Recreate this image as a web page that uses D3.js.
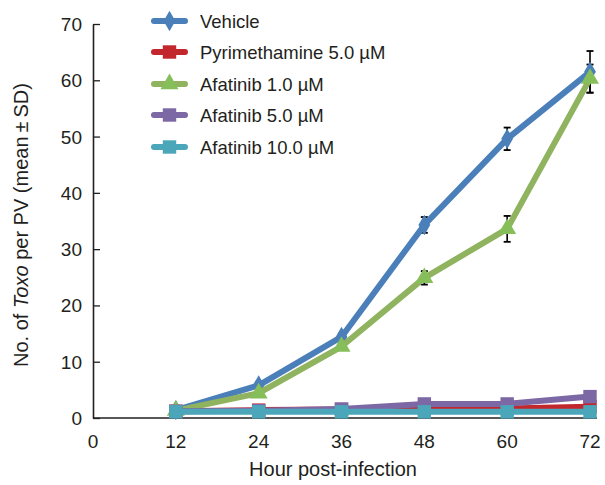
<!DOCTYPE html>
<html>
<head>
<meta charset="utf-8">
<script src="https://cdn.jsdelivr.net/npm/d3@7"></script>
<style>
  body { margin: 0; background: #fff; }
  text { font-family: "Liberation Sans", Arial, sans-serif; fill: #231f20; }
</style>
</head>
<body>
<svg width="605" height="485"></svg>
<script>
// hours sampled
var hours = [12, 24, 36, 48, 60, 72];
var xTicks = [0, 12, 24, 36, 48, 60, 72];
var yTicks = [0, 10, 20, 30, 40, 50, 60, 70];

var seriesNames = ["Vehicle", "Pyrimethamine 5.0 \u00b5M", "Afatinib 1.0 \u00b5M", "Afatinib 5.0 \u00b5M", "Afatinib 10.0 \u00b5M"];
var seriesColors = ["#4a7fb9", "#c1272d", "#8fb35e", "#7c68a4", "#4ba6ba"];
var seriesShapes = ["diamond", "square", "triangle", "square", "square"];

var vehicle = [1.4, 5.8, 14.4, 34.3, 49.6, 61.5];
var pyrimethamine = [1.2, 1.4, 1.5, 1.7, 1.7, 2.0];
var afatinib1 = [1.3, 4.4, 12.7, 24.9, 33.6, 60.3];
var afatinib5 = [1.2, 1.3, 1.6, 2.5, 2.5, 3.8];
var afatinib10 = [1.1, 1.1, 1.1, 1.1, 1.1, 1.1];

var vehicleSD = [0.3, 0.6, 0.6, 1.4, 2.0, 3.7];
var pyrimethamineSD = [0.1, 0.1, 0.1, 0.1, 0.1, 0.1];
var afatinib1SD = [0.3, 0.5, 0.5, 1.2, 2.3, 2.5];
var afatinib5SD = [0.1, 0.1, 0.2, 0.2, 0.2, 0.3];
var afatinib10SD = [0.1, 0.1, 0.1, 0.1, 0.1, 0.1];

var allValues = [vehicle, pyrimethamine, afatinib1, afatinib5, afatinib10];
var allSD = [vehicleSD, pyrimethamineSD, afatinib1SD, afatinib5SD, afatinib10SD];

var svg = d3.select('svg');

var scaleX = d3.scaleLinear().domain([0, 72]).range([93, 590]);
var scaleY = d3.scaleLinear().domain([0, 70]).range([418, 24]);

// y axis (ticks point inward)
var yAxis = svg.append('g')
  .attr('transform', 'translate(93,0)')
  .call(d3.axisRight(scaleY).tickValues(yTicks).tickSize(7).tickSizeOuter(0).tickFormat(''));
yAxis.select('.domain').attr('stroke', '#231f20').attr('stroke-width', 1.6);
yAxis.selectAll('.tick line').attr('stroke', '#231f20').attr('stroke-width', 1.3);

svg.selectAll('.ylab')
  .data(yTicks)
  .enter()
  .append('text')
  .attr('class', 'ylab')
  .attr('x', 82)
  .attr('y', function(d){ return scaleY(d) + 7; })
  .attr('text-anchor', 'end')
  .attr('font-size', 19)
  .text(function(d){ return d; });

// x axis
svg.append('line')
  .attr('x1', scaleX(0)).attr('x2', 597)
  .attr('y1', scaleY(0)).attr('y2', scaleY(0))
  .attr('stroke', '#231f20').attr('stroke-width', 1.6);

svg.selectAll('.xlab')
  .data(xTicks)
  .enter()
  .append('text')
  .attr('class', 'xlab')
  .attr('x', function(d){ return scaleX(d); })
  .attr('y', 448)
  .attr('text-anchor', 'middle')
  .attr('font-size', 19)
  .text(function(d){ return d; });

svg.append('text')
  .attr('x', 333).attr('y', 476)
  .attr('text-anchor', 'middle')
  .attr('font-size', 20)
  .text('Hour post-infection');

var yTitle = svg.append('text')
  .attr('transform', 'translate(28,225) rotate(-90)')
  .attr('text-anchor', 'middle')
  .attr('font-size', 20);
yTitle.append('tspan').text('No. of ');
yTitle.append('tspan').attr('font-style', 'italic').text('Toxo');
yTitle.append('tspan').text(' per PV (mean\u2009\u00b1\u2009SD)');

// error bars
allValues.forEach(function(vals, s){
  var g = svg.append('g');
  hours.forEach(function(h, i){
    var sd = allSD[s][i];
    var top = scaleY(vals[i] + sd), bot = scaleY(vals[i] - sd), cx = scaleX(h);
    g.append('line').attr('x1', cx).attr('x2', cx).attr('y1', top).attr('y2', bot)
      .attr('stroke', '#000').attr('stroke-width', 1.6);
    [top, bot].forEach(function(yy){
      g.append('line').attr('x1', cx - 3.5).attr('x2', cx + 3.5).attr('y1', yy).attr('y2', yy)
        .attr('stroke', '#000').attr('stroke-width', 1.8);
    });
  });
});

var symbolFor = {
  diamond: d3.symbol().type(d3.symbolDiamond).size(120),
  square: d3.symbol().type(d3.symbolSquare).size(180),
  triangle: d3.symbol().type(d3.symbolTriangle).size(140)
};

var line = d3.line()
  .x(function(d){ return scaleX(d.h); })
  .y(function(d){ return scaleY(d.v); });

allValues.forEach(function(vals, s){
  var pts = hours.map(function(h, i){ return {h: h, v: vals[i]}; });
  svg.append('path')
    .attr('d', line(pts))
    .attr('fill', 'none')
    .attr('stroke', seriesColors[s])
    .attr('stroke-width', 6)
    .attr('stroke-linejoin', 'round');
  svg.selectAll('.m' + s)
    .data(pts)
    .enter()
    .append('path')
    .attr('class', 'm' + s)
    .attr('transform', function(d){ return 'translate(' + scaleX(d.h) + ',' + scaleY(d.v) + ')'; })
    .attr('d', symbolFor[seriesShapes[s]])
    .attr('fill', seriesShapes[s] == 'triangle' ? '#86be5a' : seriesColors[s]);
});

// legend
var legendY = [21, 52, 84, 115, 147];
seriesNames.forEach(function(name, s){
  var g = svg.append('g').attr('transform', 'translate(0,' + legendY[s] + ')');
  g.append('line').attr('x1', 154).attr('x2', 185).attr('y1', 0).attr('y2', 0)
    .attr('stroke', seriesColors[s]).attr('stroke-width', 6).attr('stroke-linecap', 'round');
  g.append('path')
    .attr('transform', 'translate(169.5,0)')
    .attr('d', symbolFor[seriesShapes[s]])
    .attr('fill', seriesShapes[s] == 'triangle' ? '#86be5a' : seriesColors[s]);
  g.append('text').attr('x', 200).attr('y', 7).attr('font-size', 18.5).text(name);
});
</script>
</body>
</html>
